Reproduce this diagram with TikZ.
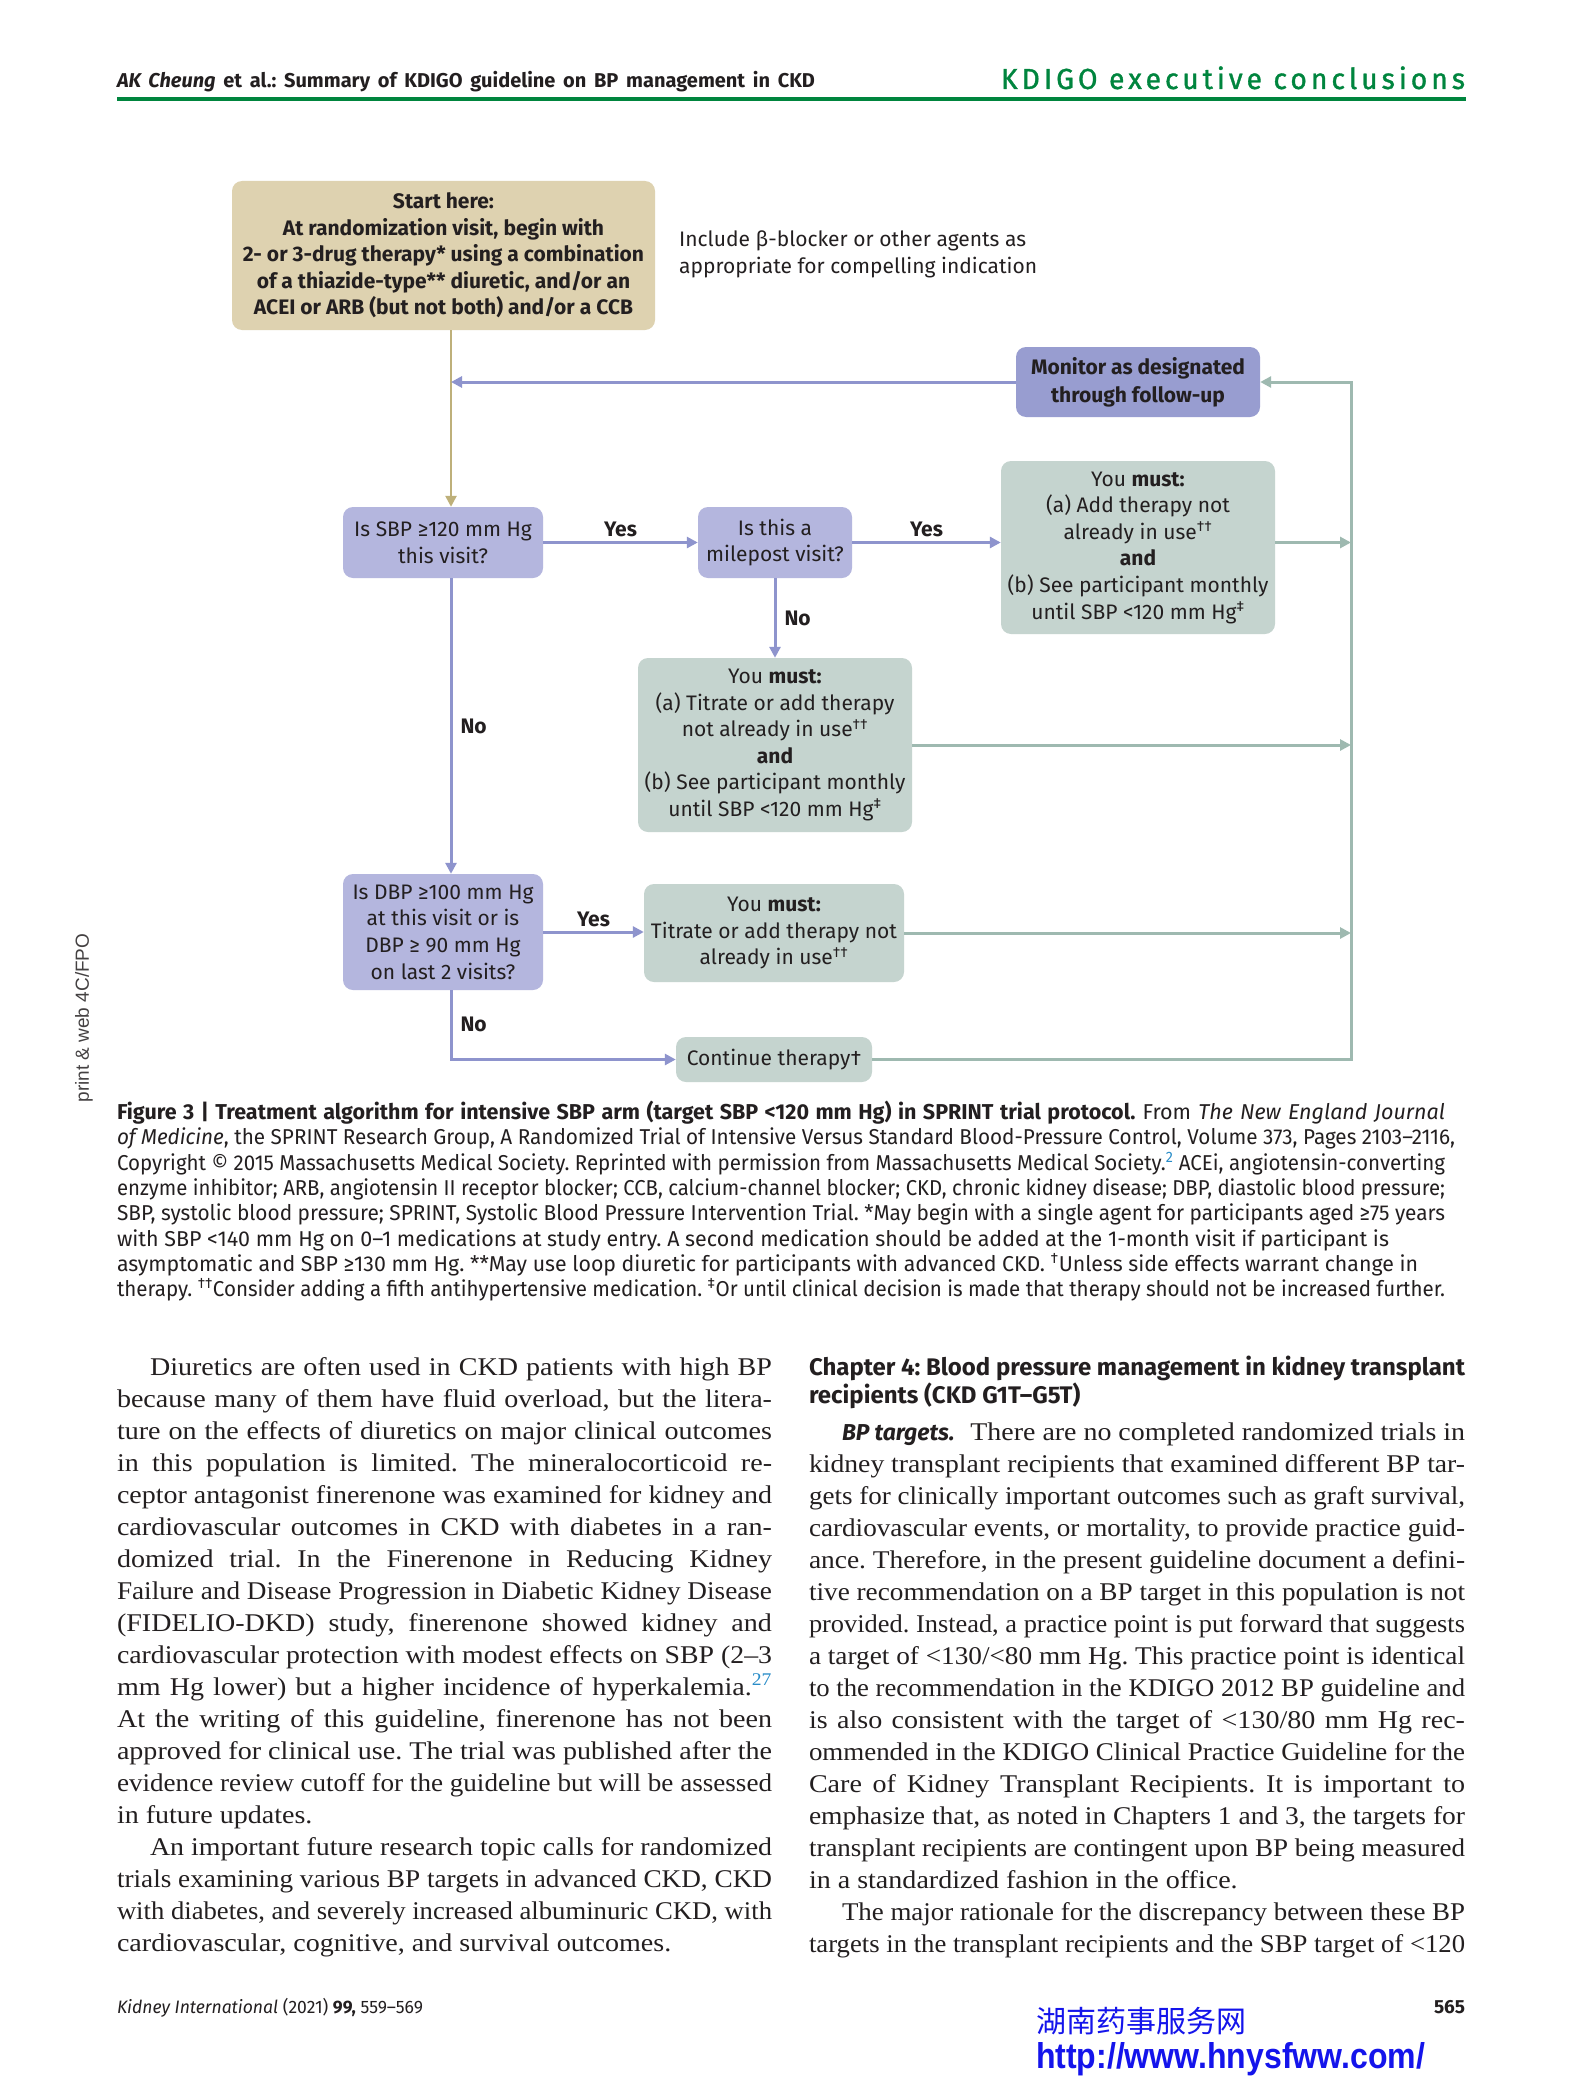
\documentclass[tikz,border=0pt]{standalone}
\usepackage{fontspec}
\usepackage{graphicx}
\setmainfont[FakeStretch=1.1]{Liberation Serif}
\newfontfamily\figfont{Fira Sans}
\newfontfamily\headfont{Fira Sans}
\newfontfamily\kdfont[LetterSpace=14, FakeBold=1.2]{Fira Sans}
\newfontfamily\arialfont{Liberation Sans}
\newfontfamily\cjkfont{Noto Sans CJK SC}
\usetikzlibrary{arrows.meta}
\frenchspacing
\definecolor{ink}{RGB}{35,31,32}
\definecolor{kdgreen}{RGB}{0,133,62}
\definecolor{ctan}{RGB}{222,210,176}
\definecolor{ctanline}{RGB}{190,176,122}
\definecolor{cpurple}{RGB}{180,182,222}
\definecolor{cpurpledark}{RGB}{152,157,208}
\definecolor{cpline}{RGB}{142,148,205}
\definecolor{cgreen}{RGB}{197,212,207}
\definecolor{cgline}{RGB}{158,185,176}
\definecolor{linkblue}{RGB}{40,140,200}
\definecolor{wmblue}{RGB}{20,20,235}

% one printed line, squeezed or spread to the column width
\newsavebox\fitsave
\newcommand\fitto[2]{\sbox\fitsave{#2}%
  \ifdim\wd\fitsave>#1pt\relax\resizebox{#1pt}{\height}{\usebox\fitsave}%
  \else\makebox[#1pt][s]{#2}\fi}
\newcommand\jline[5]{\node[txt] (#1) at (#2,#3) {\fitto{#4}{#5}};}
\newcommand\rline[4]{\node[txt] (#1) at (#2,#3) {#4};}

\begin{document}
\begin{tikzpicture}[x=1pt, y=-1pt, >={Triangle[length=11pt,width=11pt]},
  txt/.style={anchor=base west, inner sep=0pt, outer sep=0pt},
  fbox/.style={rounded corners=10pt, align=center, inner sep=0pt, text=ink,
    font=\figfont\fontsize{21}{26.6}\selectfont},
  startbox/.style={fbox, fill=ctan, font=\figfont\bfseries\fontsize{21}{26.6}\selectfont},
  qbox/.style={fbox, fill=cpurple},
  mbox/.style={fbox, fill=cgreen},
  lab/.style={text=ink, inner sep=4pt, font=\figfont\bfseries\fontsize{21}{24}\selectfont},
  pline/.style={draw=cpline, line width=3pt},
  gline/.style={draw=cgline, line width=3pt},
  tline/.style={draw=ctanline, line width=2.5pt}]
\useasboundingbox (0,0) rectangle (1583,2087);
\fill[white] (0,0) rectangle (1583,2087);

% running head
\begin{scope}[text=ink]
\node[txt] (head) at (117,88) {\headfont\bfseries\fontsize{20}{22}\selectfont\fitto{698}{{\itshape AK Cheung} et al.: Summary of KDIGO guideline on BP management in CKD}};
\node[txt, text=kdgreen] (kdigo) at (1001,89) {\kdfont\fontsize{29}{30}\selectfont\fitto{464}{KDIGO executive conclusions}};
\end{scope}
\fill[kdgreen] (117,97) rectangle (1466,101);

% margin mark
\node[rotate=90, text=ink!85, font=\arialfont\fontsize{19}{20}\selectfont] (fpo) at (84,1018) {print \& web 4C/FPO};

% flowchart
\coordinate (spine) at (451,0);
\coordinate (rline) at (1351,0);
\node[startbox, minimum width=423pt, minimum height=149pt] (start) at (443.5,255.5)
  {Start here:\\At randomization visit, begin with\\2- or 3-drug therapy* using a combination\\of a thiazide-type** diuretic, and/or an\\ACEI or ARB (but not both) and/or a CCB};
\node[fbox, anchor=west, align=left] (incl) at (679,254.5)
  {Include β-blocker or other agents as\\appropriate for compelling indication};
\node[fbox, fill=cpurpledark, minimum width=244pt, minimum height=70pt,
  font=\figfont\bfseries\fontsize{21}{28}\selectfont] (monitor) at (1138,382)
  {Monitor as designated\\through follow-up};
\node[qbox, minimum width=200pt, minimum height=71pt] (sbp) at (443,542.5)
  {Is SBP ≥120 mm Hg\\this visit?};
\node[qbox, minimum width=154pt, minimum height=71pt] (mile) at (775,542.5)
  {Is this a\\milepost visit?};
\node[mbox, minimum width=274pt, minimum height=173pt] (addbox) at (1138,547.5)
  {You \textbf{must:}\\(a) Add therapy not\\already in use\textsuperscript{††}\\\textbf{and}\\(b) See participant monthly\\until SBP <120 mm Hg\textsuperscript{‡}};
\node[mbox, minimum width=274pt, minimum height=174pt] (titbox) at (775,745)
  {You \textbf{must:}\\(a) Titrate or add therapy\\not already in use\textsuperscript{††}\\\textbf{and}\\(b) See participant monthly\\until SBP <120 mm Hg\textsuperscript{‡}};
\node[qbox, minimum width=200pt, minimum height=116pt] (dbp) at (443,932)
  {Is DBP ≥100 mm Hg\\at this visit or is\\DBP ≥ 90 mm Hg\\on last 2 visits?};
\node[mbox, minimum width=260pt, minimum height=98pt] (titbox2) at (774,933)
  {You \textbf{must:}\\Titrate or add therapy not\\already in use\textsuperscript{††}};
\node[mbox, minimum width=196pt, minimum height=45pt] (cont) at (774,1059.5)
  {Continue therapy†};

\draw[tline,->] (start.south -| spine) -- (sbp.north -| spine);
\draw[pline,->] (monitor.west) -- (monitor.west -| spine);
\draw[pline,->] (sbp.east) -- (mile.west) node[lab, midway, above] {Yes};
\draw[pline,->] (mile.east) -- (mile.east -| addbox.west) node[lab, midway, above] {Yes};
\draw[pline,->] (mile.south) -- (titbox.north) node[lab, midway, right=4pt] {No};
\draw[pline,->] (sbp.south -| spine) -- (dbp.north -| spine) node[lab, midway, right=4pt] {No};
\draw[pline,->] (dbp.east) -- (dbp.east -| titbox2.west) node[lab, midway, above] {Yes};
\draw[pline,->] (dbp.south -| spine) |- (cont.west) node[lab, pos=0.25, right=4pt] {No};
\draw[gline,->] (addbox.east |- mile.east) -- (mile.east -| rline);
\draw[gline,->] (titbox.east) -- (titbox.east -| rline);
\draw[gline,->] (titbox2.east) -- (titbox2.east -| rline);
\draw[gline,->] (cont.east) -- (cont.east -| rline) -- (monitor.east -| rline) -- (monitor.east);

% caption
\begin{scope}[text=ink, font=\figfont\fontsize{21.5}{25}\selectfont]
\jline{c1}{117}{1119}{1328}{\textbf{Figure 3 | Treatment algorithm for intensive SBP arm (target SBP <120 mm Hg) in SPRINT trial protocol.} From \textit{The New England Journal}}
\jline{c2}{117}{1144}{1338}{\textit{of Medicine}, the SPRINT Research Group, A Randomized Trial of Intensive Versus Standard Blood-Pressure Control, Volume 373, Pages 2103–2116,}
\jline{c3}{117}{1170}{1328}{Copyright © 2015 Massachusetts Medical Society. Reprinted with permission from Massachusetts Medical Society.\textsuperscript{\color{linkblue}2} ACEi, angiotensin-converting}
\jline{c4}{117}{1195}{1328}{enzyme inhibitor; ARB, angiotensin II receptor blocker; CCB, calcium-channel blocker; CKD, chronic kidney disease; DBP, diastolic blood pressure;}
\jline{c5}{117}{1220}{1328}{SBP, systolic blood pressure; SPRINT, Systolic Blood Pressure Intervention Trial. *May begin with a single agent for participants aged ≥75 years}
\jline{c6}{117}{1246}{1272}{with SBP <140 mm Hg on 0–1 medications at study entry. A second medication should be added at the 1-month visit if participant is}
\jline{c7}{117}{1271}{1301}{asymptomatic and SBP ≥130 mm Hg. **May use loop diuretic for participants with advanced CKD. \textsuperscript{†}Unless side effects warrant change in}
\jline{c8}{117}{1296}{1328}{therapy. \textsuperscript{††}Consider adding a fifth antihypertensive medication. \textsuperscript{‡}Or until clinical decision is made that therapy should not be increased further.}
\end{scope}

% left column
\begin{scope}[text=ink, font=\fontsize{25.5}{32}\selectfont]
\jline{l1}{150}{1375}{622}{Diuretics are often used in CKD patients with high BP}
\jline{l2}{117}{1407}{655}{because many of them have fluid overload, but the litera-}
\jline{l3}{117}{1439}{655}{ture on the effects of diuretics on major clinical outcomes}
\jline{l4}{117}{1471}{655}{in this population is limited. The mineralocorticoid re-}
\jline{l5}{117}{1503}{655}{ceptor antagonist finerenone was examined for kidney and}
\jline{l6}{117}{1535}{655}{cardiovascular outcomes in CKD with diabetes in a ran-}
\jline{l7}{117}{1567}{655}{domized trial. In the Finerenone in Reducing Kidney}
\jline{l8}{117}{1599}{655}{Failure and Disease Progression in Diabetic Kidney Disease}
\jline{l9}{117}{1631}{655}{(FIDELIO-DKD) study, finerenone showed kidney and}
\jline{l10}{117}{1663}{655}{cardiovascular protection with modest effects on SBP (2–3}
\jline{l11}{117}{1695}{655}{mm Hg lower) but a higher incidence of hyperkalemia.\textsuperscript{\color{linkblue}27}}
\jline{l12}{117}{1727}{655}{At the writing of this guideline, finerenone has not been}
\jline{l13}{117}{1759}{655}{approved for clinical use. The trial was published after the}
\jline{l14}{117}{1791}{655}{evidence review cutoff for the guideline but will be assessed}
\rline{l15}{117}{1823}{in future updates.}
\jline{l16}{150}{1855}{622}{An important future research topic calls for randomized}
\jline{l17}{117}{1887}{655}{trials examining various BP targets in advanced CKD, CKD}
\jline{l18}{117}{1919}{655}{with diabetes, and severely increased albuminuric CKD, with}
\rline{l19}{117}{1951}{cardiovascular, cognitive, and survival outcomes.}
\end{scope}

% right column
\begin{scope}[text=ink, font=\fontsize{25.5}{32}\selectfont]
\node[txt] (r1) at (809,1375) {\figfont\bfseries\fontsize{24}{28}\selectfont\fitto{656}{Chapter 4: Blood pressure management in kidney transplant}};
\node[txt] (r2) at (809,1403) {\figfont\bfseries\fontsize{24}{28}\selectfont recipients (CKD G1T–G5T)};
\jline{r3}{842}{1440}{623}{{\figfont\bfseries\itshape\fontsize{23}{28}\selectfont BP targets.}\hspace{16pt}There are no completed randomized trials in}
\jline{r4}{809}{1472}{656}{kidney transplant recipients that examined different BP tar-}
\jline{r5}{809}{1504}{656}{gets for clinically important outcomes such as graft survival,}
\jline{r6}{809}{1536}{656}{cardiovascular events, or mortality, to provide practice guid-}
\jline{r7}{809}{1568}{656}{ance. Therefore, in the present guideline document a defini-}
\jline{r8}{809}{1600}{656}{tive recommendation on a BP target in this population is not}
\jline{r9}{809}{1632}{656}{provided. Instead, a practice point is put forward that suggests}
\jline{r10}{809}{1664}{656}{a target of <130/<80 mm Hg. This practice point is identical}
\jline{r11}{809}{1696}{656}{to the recommendation in the KDIGO 2012 BP guideline and}
\jline{r12}{809}{1728}{656}{is also consistent with the target of <130/80 mm Hg rec-}
\jline{r13}{809}{1760}{656}{ommended in the KDIGO Clinical Practice Guideline for the}
\jline{r14}{809}{1792}{656}{Care of Kidney Transplant Recipients. It is important to}
\jline{r15}{809}{1824}{656}{emphasize that, as noted in Chapters 1 and 3, the targets for}
\jline{r16}{809}{1856}{656}{transplant recipients are contingent upon BP being measured}
\rline{r17}{809}{1888}{in a standardized fashion in the office.}
\jline{r18}{842}{1920}{623}{The major rationale for the discrepancy between these BP}
\jline{r19}{809}{1952}{656}{targets in the transplant recipients and the SBP target of <120}
\end{scope}

% foot
\node[txt, text=ink] (journal) at (117,2013) {\figfont\fontsize{18}{20}\selectfont\fitto{306}{\textit{Kidney International} (2021) \textbf{99,} 559–569}};
\node[txt, anchor=base east, text=ink] (pageno) at (1465,2013) {\figfont\bfseries\fontsize{19}{20}\selectfont 565};
\node[txt, text=wmblue] (wmcn) at (1036,2032) {\cjkfont\fontsize{30}{32}\selectfont\fitto{221}{湖南药事服务网}};
\node[txt, text=wmblue] (wmurl) at (1036,2068) {\resizebox{389pt}{26pt}{\arialfont\bfseries http://www.hnysfww.com/}};
\end{tikzpicture}
\end{document}
